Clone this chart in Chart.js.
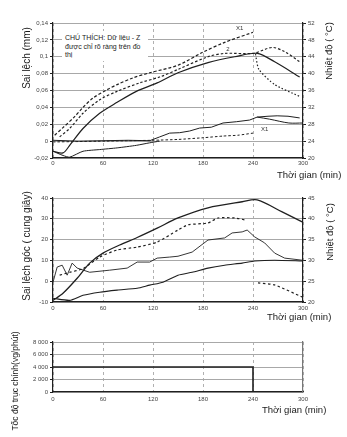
<!DOCTYPE html>
<html>
<head>
<meta charset="utf-8">
<script src="https://cdn.jsdelivr.net/npm/chart.js@4.4.1/dist/chart.umd.min.js"></script>
<style>
html,body{margin:0;padding:0;background:#fff;}
body{width:347px;height:437px;position:relative;overflow:hidden;font-family:"Liberation Sans",Arial,sans-serif;color:#1f1f1f;}
canvas{position:absolute;left:0;}
.t{position:absolute;white-space:nowrap;line-height:1;font-size:9.5px;color:#1a1a1a;}
.rot{transform:translate(-50%,-50%) rotate(-90deg);}
#note{position:absolute;left:62px;top:31px;width:86px;height:30px;background:#fff;font-size:7px;line-height:8.5px;padding:3px 0 0 3px;box-sizing:border-box;color:#222;}
</style>
</head>
<body>
<canvas id="c1" width="347" height="176" style="top:0"></canvas>
<canvas id="c2" width="347" height="142" style="top:180px"></canvas>
<canvas id="c3" width="347" height="85" style="top:325px"></canvas>

<div id="note">CHÚ THÍCH: Dữ liệu - Z<br>được chỉ rõ ràng trên đồ<br>thị</div>
<div class="t rot" style="left:27px;top:58px;font-size:10px">Sai lệch (mm)</div>
<div class="t rot" style="left:329px;top:51px;font-size:9.5px">Nhiệt độ ( °C)</div>
<div class="t" style="left:277px;top:170px">Thời gian (min)</div>
<div class="t rot" style="left:27px;top:246px;font-size:10px">Sai lệch góc ( cung giây)</div>
<div class="t rot" style="left:330px;top:232px;font-size:9.5px">Nhiệt độ ( °C)</div>
<div class="t" style="left:267px;top:312px">Thời gian (min)</div>
<div class="t rot" style="left:15px;top:381px;font-size:8.5px">Tốc độ trục chính(vg/phút)</div>
<div class="t" style="left:262px;top:405px">Thời gian (min)</div>

<script>
// panel 1 - sai lech (mm), left axis
const p1TimeX1=[2,12,26,36,48,65,77,96,116,150,179,206,240];
const p1DevX1=[0.007,0.016,0.029,0.040,0.051,0.061,0.067,0.075,0.081,0.090,0.105,0.117,0.129];
const p1Time2=[8,20,36,56,77,104,128,150,186,206,240,263,278,296];
const p1Dev2=[0.005,0.015,0.033,0.049,0.059,0.069,0.076,0.085,0.100,0.104,0.104,0.111,0.106,0.094];
const p1Time1=[0,12,20,36,56,77,100,125,150,186,218,245,266,296];
const p1Dev1=[-0.012,-0.014,-0.005,0.015,0.033,0.046,0.059,0.069,0.081,0.093,0.100,0.104,0.094,0.076];
const p1TimeDrop=[243,247,266,296];
const p1DevDrop=[0.103,0.085,0.067,0.053];
const p1TimeLow=[0,12,20,36,56,77,100,116,128];
const p1DevLow=[-0.012,-0.017,-0.019,-0.012,-0.010,-0.008,-0.005,-0.002,0.0];
// panel 1 - nhiet do, right axis
const p1TimeT1=[0,30,60,90,116,128,140,152,164,176,190,204,220,236,245,258,269,282,296];
const p1Temp1=[24.2,24.0,24.1,24.2,24.1,25.0,25.9,26.0,26.4,27.1,27.3,28.3,28.6,29.0,29.7,29.9,30.0,29.9,29.5];
const p1TimeT2=[0,30,60,90,120,150,180,204,222,240];
const p1Temp2=[23.8,23.9,24.0,24.1,24.2,24.4,24.8,25.2,25.4,25.9];
const p1TimeT3=[245,260,283,300];
const p1Temp3=[29.7,29.2,28.3,28.3];

// panel 2 - sai lech goc (cung giay), left axis
const p2Time1=[0,12,29,44,60,80,101,125,150,186,227,245,275,299];
const p2Ang1=[-9.2,-5.8,1.4,8.7,13.5,17.4,21.0,25.5,30.4,35.3,38.2,39.1,33.3,28.5];
const p2Time2=[8,20,36,56,77,101,125,150,162,186,198,218,230];
const p2Ang2=[2.9,4.3,6.0,11.6,15.0,16.4,18.8,24.6,27.1,28.0,30.4,30.4,29.5];
const p2Time3=[0,5,11,17,23,29,44,68,89,101,116,125,140,150,167,186,206,215,227,233,242,254,266,278,299];
const p2Ang3=[-0.5,6.8,7.7,2.9,8.7,6.3,4.3,5.3,6.3,9.2,9.2,11.1,11.6,12.0,14.0,19.8,20.8,23.2,23.7,24.6,21.3,18.4,13.5,11.1,10.1];
const p2Time4=[0,20,36,56,77,101,116,132,150,167,186,206,227,242,266,299];
const p2Ang4=[-8.2,-9.2,-6.8,-5.3,-4.3,-3.4,-1.9,-0.5,2.9,4.3,6.3,7.7,8.7,9.7,10.1,9.7];
// panel 2 - nhiet do, right axis
const p2TimeT=[246,266,299];
const p2Temp=[24.6,24.1,21.2];

// panel 3 - toc do truc chinh
const p3Time=[0,240,240];
const p3Speed=[4000,4000,0];

// small labels written on the curves: text, time, value, axis
const p1Notes=[['X1',224,0.134,'y'],['2',210,0.109,'y'],['X1',254,26.9,'y1']];

const FONT='"Liberation Sans", Arial, sans-serif';
const INK='#1f1f1f';
const TICK={size:6,family:FONT};
const pts=(ts,vs)=>ts.map((t,i)=>({x:t,y:vs[i]}));

const notesPlugin={id:'notes',afterDatasetsDraw(chart,args,opts){
  const list=opts.items||[];const ctx=chart.ctx;
  ctx.save();ctx.font='6px '+FONT;ctx.fillStyle='#333';ctx.textAlign='center';ctx.textBaseline='middle';
  list.forEach(n=>{ctx.fillText(n[0],chart.scales.x.getPixelForValue(n[1]),chart.scales[n[3]].getPixelForValue(n[2]));});
  ctx.restore();
}};

function line(ts,vs,opt){
  return Object.assign({data:pts(ts,vs),borderColor:INK,borderWidth:1.2,pointRadius:0,fill:false,tension:0.3,yAxisID:'y'},opt||{});
}
function xAxis(h,pad){
  return {type:'linear',min:0,max:300,
    ticks:{stepSize:60,font:TICK,color:'#444',padding:pad,maxRotation:0},
    grid:{color:'#b0b0b0',lineWidth:1,drawTicks:false},
    border:{color:INK,width:1.2,dash:[3,3]},
    afterFit:s=>{s.height=h;}};
}
function yLeft(min,max,step,fmt){
  return {position:'left',min,max,
    ticks:{stepSize:step,font:TICK,color:'#444',padding:2,callback:fmt},
    grid:{color:'#a8a8a8',lineWidth:1,tickLength:3,tickColor:INK},
    border:{color:INK,width:1.2},
    afterFit:s=>{s.width=53;}};
}
function yRight(min,max,step){
  return {position:'right',min,max,
    ticks:{stepSize:step,font:TICK,color:'#444',padding:2},
    grid:{drawOnChartArea:false,tickLength:3,tickColor:INK},
    border:{color:INK,width:1.2},
    afterFit:s=>{s.width=44;}};
}
function base(top,notes){
  return {responsive:false,animation:false,devicePixelRatio:1,
    layout:{padding:{top,left:0,right:0,bottom:0}},
    plugins:{legend:{display:false},tooltip:{enabled:false},notes:{items:notes||[]}}};
}

new Chart(document.getElementById('c1'),{type:'line',plugins:[notesPlugin],
  data:{datasets:[
    line(p1TimeX1,p1DevX1,{borderDash:[3,2]}),
    line(p1Time2,p1Dev2,{borderDash:[2.5,2]}),
    line(p1Time1,p1Dev1),
    line(p1TimeDrop,p1DevDrop,{borderDash:[1.5,2],tension:0.2}),
    line(p1TimeLow,p1DevLow,{borderWidth:1,tension:0.2}),
    line(p1TimeT1,p1Temp1,{yAxisID:'y1',borderWidth:1,tension:0}),
    line(p1TimeT2,p1Temp2,{yAxisID:'y1',borderDash:[2.5,2],borderWidth:1,tension:0.2}),
    line(p1TimeT3,p1Temp3,{yAxisID:'y1',borderWidth:1,tension:0.3})
  ]},
  options:Object.assign(base(23,p1Notes),{scales:{
    x:xAxis(18,2),
    y:yLeft(-0.02,0.14,0.02,v=>{const r=Math.round(v*100)/100;return r===0?'0':String(r).replace('.',',');}),
    y1:yRight(20,52,4)
  }})
});

new Chart(document.getElementById('c2'),{type:'line',
  data:{datasets:[
    line(p2Time1,p2Ang1,{borderWidth:1.3}),
    line(p2Time2,p2Ang2,{borderDash:[2.5,2.5],tension:0.2}),
    line(p2TimeT,p2Temp,{yAxisID:'y1',borderDash:[2.5,2.5],tension:0.2}),
    line(p2Time3,p2Ang3,{borderWidth:0.9,tension:0}),
    line(p2Time4,p2Ang4,{borderWidth:1.1,tension:0.2})
  ]},
  options:Object.assign(base(18),{scales:{
    x:xAxis(20,3),
    y:yLeft(-10,40,10),
    y1:yRight(20,45,5)
  }})
});

new Chart(document.getElementById('c3'),{type:'line',
  data:{datasets:[
    line(p3Time,p3Speed,{borderWidth:1.6,tension:0})
  ]},
  options:Object.assign(base(17),{scales:{
    x:xAxis(18,4),
    y:yLeft(0,8000,2000,v=>v===0?'0':(v/1000)+' 000'),
    y1:yRight(0,8000,2000)
  }})
});
// panel 3 has no labels on its right edge, only the frame line
Chart.getChart('c3').options.scales.y1.ticks.display=false;
Chart.getChart('c3').options.scales.y1.grid.display=false;
Chart.getChart('c3').options.scales.y1.border.color='#777';
Chart.getChart('c3').update();
</script>
</body>
</html>
